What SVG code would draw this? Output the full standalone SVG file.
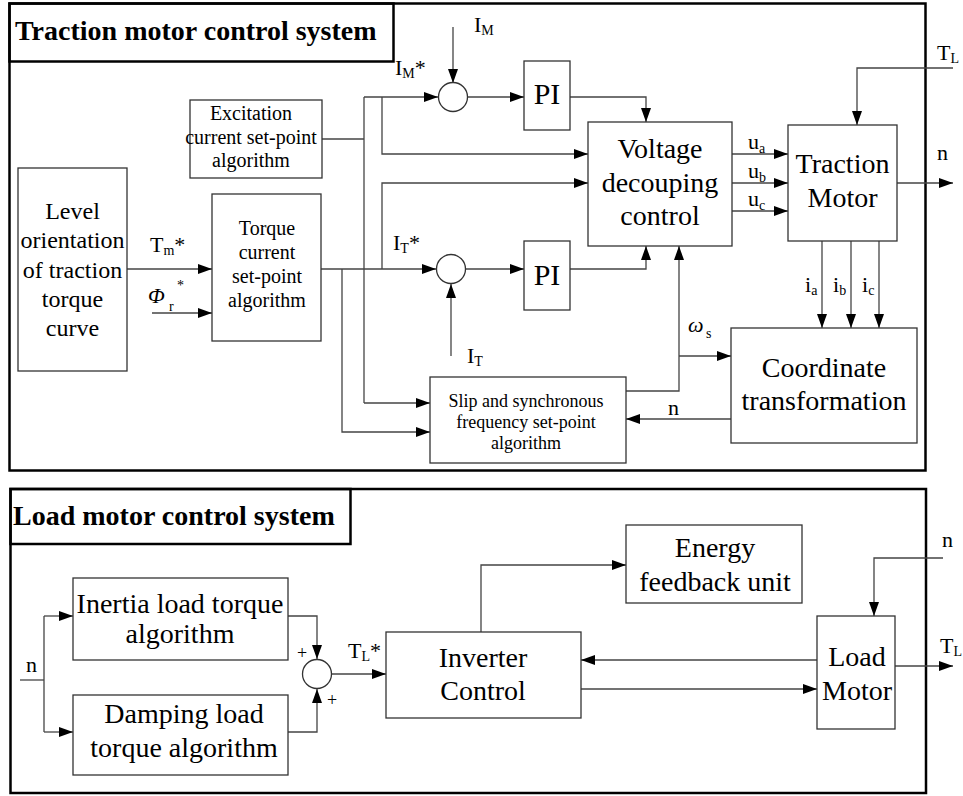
<svg xmlns="http://www.w3.org/2000/svg" width="963" height="796" viewBox="0 0 963 796">
<style>
text{font-family:"Liberation Serif","Times New Roman",serif;fill:#000}
.box{fill:#fff;stroke:#333;stroke-width:1.3}
.frame{fill:none;stroke:#000;stroke-width:2.5}
.c{fill:none;stroke:#444;stroke-width:1.3}
.ca{fill:none;stroke:#444;stroke-width:1.3;marker-end:url(#ah)}
.t{font-weight:bold;font-size:28px}
.m{text-anchor:middle}
.l{font-size:22px}
.s{font-size:14px}
</style>
<defs>
<marker id="ah" viewBox="0 0 14 10" refX="14" refY="5" markerWidth="14" markerHeight="10" orient="auto" markerUnits="userSpaceOnUse">
<path d="M0,0 L14,5 L0,10 z" fill="#000"/>
</marker>
</defs>
<rect width="963" height="796" fill="#fff"/>

<g id="frames">
<rect class="frame" x="9.5" y="3.5" width="916" height="467"/>
<rect class="frame" x="9.5" y="3.5" width="384" height="58"/>
<text class="t" x="15" y="40">Traction motor control system</text>
<rect class="frame" x="10.5" y="489" width="915.5" height="304"/>
<rect class="frame" x="10.5" y="489" width="340" height="55"/>
<text class="t" x="13" y="525">Load motor control system</text>
</g>

<g id="connectors">
<!-- top section -->
<polyline class="c" points="322,139 364,139"/>
<line class="c" x1="364" y1="97" x2="364" y2="403"/>
<polyline class="ca" points="364,403 430,403"/>
<polyline class="ca" points="364,97 438,97"/>
<polyline class="ca" points="382,97 382,154 588,154"/>
<polyline class="ca" points="382,269 382,183 588,183"/>
<polyline class="ca" points="321,269 436,269"/>
<polyline class="ca" points="453,27 453,83"/>
<polyline class="ca" points="467,97 524,97"/>
<polyline class="ca" points="570,97 646,97 646,122"/>
<polyline class="ca" points="465,269 524,269"/>
<polyline class="ca" points="570,269 646,269 646,246"/>
<polyline class="ca" points="451,356 451,284"/>
<polyline class="ca" points="342,269 342,432 430,432"/>
<polyline class="ca" points="127,269 212,269"/>
<polyline class="ca" points="152,313 212,313"/>
<polyline class="ca" points="626,391 679,391 679,246"/>
<polyline class="ca" points="679,356 731,356"/>
<polyline class="ca" points="731,419 626,419"/>
<polyline class="ca" points="732,154 788,154"/>
<polyline class="ca" points="732,183 788,183"/>
<polyline class="ca" points="732,211 788,211"/>
<polyline class="ca" points="897,183 953,183"/>
<polyline class="ca" points="953,68 857,68 857,125"/>
<polyline class="ca" points="822,241 822,328"/>
<polyline class="ca" points="851,241 851,328"/>
<polyline class="ca" points="879,241 879,328"/>
<!-- bottom section -->
<polyline class="c" points="20,680 44,680"/>
<line class="c" x1="44" y1="616" x2="44" y2="732"/>
<polyline class="ca" points="44,616 73,616"/>
<polyline class="ca" points="44,732 73,732"/>
<polyline class="ca" points="288,616 317,616 317,659"/>
<polyline class="ca" points="288,732 317,732 317,689"/>
<polyline class="ca" points="332,674 386,674"/>
<polyline class="ca" points="481,632 481,565 626,565"/>
<polyline class="ca" points="817,660 581,660"/>
<polyline class="ca" points="581,689 817,689"/>
<polyline class="ca" points="943,558 874,558 874,616"/>
<polyline class="ca" points="895,666 953,666"/>
</g>

<g id="level">
<rect class="box" x="18" y="168" width="109" height="203"/>
<text class="m" font-size="24" x="72.5" y="219">Level</text>
<text class="m" font-size="24" x="72.5" y="248">orientation</text>
<text class="m" font-size="24" x="72.5" y="278">of traction</text>
<text class="m" font-size="24" x="72.5" y="307">torque</text>
<text class="m" font-size="24" x="72.5" y="336">curve</text>
</g>

<g id="excitation">
<rect class="box" x="190" y="100" width="132" height="78"/>
<text class="m" font-size="20" x="251" y="120">Excitation</text>
<text class="m" font-size="20" x="251" y="144">current set-point</text>
<text class="m" font-size="20" x="251" y="167">algorithm</text>
</g>

<g id="torque">
<rect class="box" x="212" y="194" width="109" height="147"/>
<text class="m" font-size="20" x="267" y="235">Torque</text>
<text class="m" font-size="20" x="267" y="259">current</text>
<text class="m" font-size="20" x="267" y="283">set-point</text>
<text class="m" font-size="20" x="267" y="307">algorithm</text>
</g>

<g id="sum-m">
<circle class="box" cx="453" cy="97" r="14.5"/>
</g>
<g id="sum-t">
<circle class="box" cx="451" cy="269" r="14.5"/>
</g>

<g id="pi-m">
<rect class="box" x="524" y="61" width="46" height="69"/>
<text class="m" font-size="30" x="547" y="104">PI</text>
</g>
<g id="pi-t">
<rect class="box" x="524" y="241" width="46" height="69"/>
<text class="m" font-size="30" x="547" y="285">PI</text>
</g>

<g id="voltage">
<rect class="box" x="588" y="122" width="144" height="124"/>
<text class="m" font-size="28" x="660" y="158">Voltage</text>
<text class="m" font-size="28" x="660" y="192">decouping</text>
<text class="m" font-size="28" x="660" y="225">control</text>
</g>

<g id="traction">
<rect class="box" x="788" y="125" width="109" height="116"/>
<text class="m" font-size="28" x="842.5" y="173">Traction</text>
<text class="m" font-size="28" x="842.5" y="207">Motor</text>
</g>

<g id="slip">
<rect class="box" x="430" y="377" width="196" height="86"/>
<text class="m" font-size="18" x="526" y="407">Slip and synchronous</text>
<text class="m" font-size="18" x="526" y="428">frequency set-point</text>
<text class="m" font-size="18" x="526" y="449">algorithm</text>
</g>

<g id="coordinate">
<rect class="box" x="731" y="328" width="186" height="115"/>
<text class="m" font-size="28" x="824" y="377">Coordinate</text>
<text class="m" font-size="28" x="824" y="410">transformation</text>
</g>

<g id="inertia">
<rect class="box" x="73" y="578" width="215" height="82"/>
<text class="m" font-size="28" x="180" y="613">Inertia load torque</text>
<text class="m" font-size="28" x="180" y="643">algorithm</text>
</g>

<g id="damping">
<rect class="box" x="73" y="695" width="215" height="80"/>
<text class="m" font-size="28" x="184" y="723">Damping load</text>
<text class="m" font-size="28" x="184" y="757">torque algorithm</text>
</g>

<g id="sum-l">
<circle class="box" cx="317" cy="674" r="14.5"/>
</g>

<g id="inverter">
<rect class="box" x="386" y="632" width="195" height="86"/>
<text class="m" font-size="28" x="483" y="667">Inverter</text>
<text class="m" font-size="28" x="483" y="700">Control</text>
</g>

<g id="energy">
<rect class="box" x="626" y="525" width="176" height="78"/>
<text class="m" font-size="28" x="715" y="557">Energy</text>
<text class="m" font-size="28" x="715" y="591">feedback unit</text>
</g>

<g id="loadmotor">
<rect class="box" x="817" y="616" width="78" height="113"/>
<text class="m" font-size="28" x="857" y="666">Load</text>
<text class="m" font-size="28" x="857" y="700">Motor</text>
</g>

<g id="labels">
<text class="l" x="474" y="32">I<tspan class="s" dy="3">M</tspan></text>
<text class="l" x="395" y="75">I<tspan class="s" dy="3">M</tspan><tspan dy="-3">*</tspan></text>
<text class="l" x="150" y="252">T<tspan class="s" dy="3">m</tspan><tspan dy="-3">*</tspan></text>
<text class="l" x="148" y="303" font-style="italic" font-size="26">Φ</text>
<text class="s" x="169" y="311">r</text>
<text class="s" x="177" y="290">*</text>
<text class="l" x="393" y="250">I<tspan class="s" dy="3">T</tspan><tspan dy="-3">*</tspan></text>
<text class="l" x="467" y="363">I<tspan class="s" dy="3">T</tspan></text>
<text class="l" x="688" y="332" font-style="italic" font-size="26">ω</text>
<text class="s" x="706" y="338">s</text>
<text class="l" x="668" y="415">n</text>
<text class="l" x="748" y="149">u<tspan class="s" dy="4">a</tspan></text>
<text class="l" x="748" y="178">u<tspan class="s" dy="4">b</tspan></text>
<text class="l" x="748" y="206">u<tspan class="s" dy="4">c</tspan></text>
<text class="l" x="937" y="60">T<tspan class="s" dy="3">L</tspan></text>
<text class="l" x="937" y="160">n</text>
<text class="l" x="805" y="292">i<tspan class="s" dy="3">a</tspan></text>
<text class="l" x="833" y="292">i<tspan class="s" dy="3">b</tspan></text>
<text class="l" x="862" y="292">i<tspan class="s" dy="3">c</tspan></text>
<text class="l" x="26" y="672">n</text>
<text font-size="18" x="297" y="659">+</text>
<text font-size="18" x="327" y="706">+</text>
<text class="l" x="348" y="658">T<tspan class="s" dy="3">L</tspan><tspan dy="-3">*</tspan></text>
<text class="l" x="942" y="547">n</text>
<text class="l" x="940" y="653">T<tspan class="s" dy="3">L</tspan></text>
</g>
</svg>
